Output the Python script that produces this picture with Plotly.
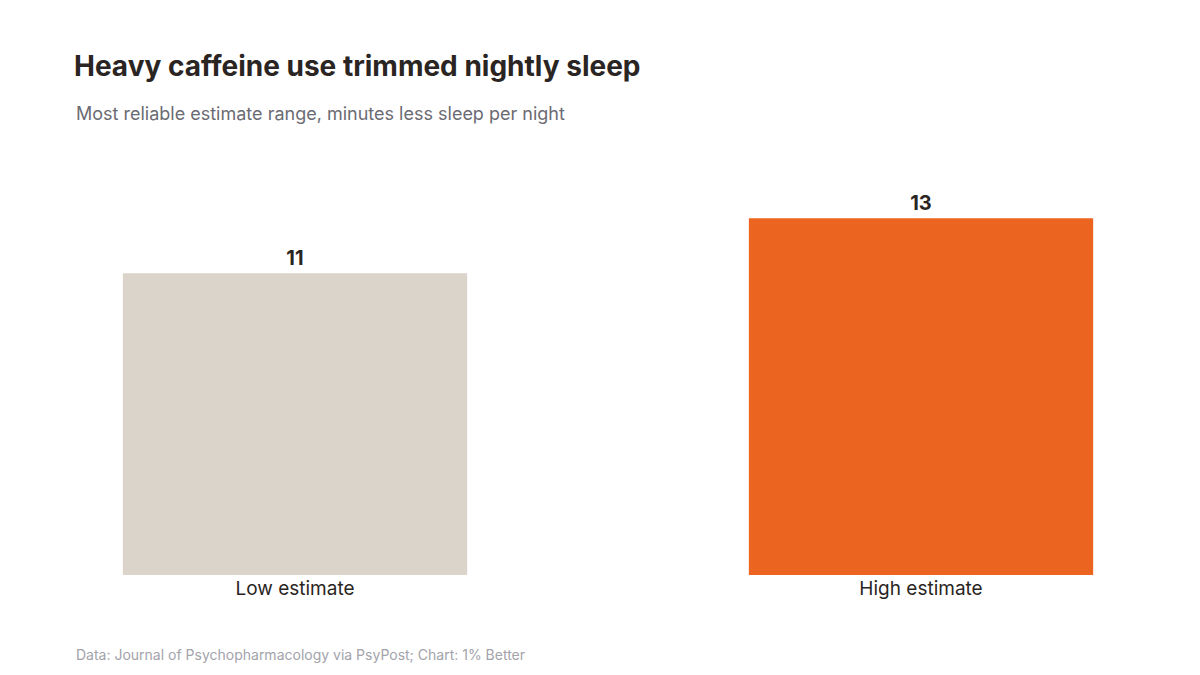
import plotly.graph_objects as go

categories = ["Low estimate", "High estimate"]
values = [11, 13]
colors = ["#DAD4CA", "#EC6520"]

fig = go.Figure(go.Bar(
    x=[0, 1], y=values, marker=dict(color=colors, line=dict(width=0)), width=0.55,
    text=[str(v) for v in values], textposition="outside", cliponaxis=False,
    textfont=dict(family="Inter", size=20, color="#2a2522", weight="bold"),
    hoverinfo="skip",
))
fig.update_layout(
    width=1200, height=675, plot_bgcolor="white", paper_bgcolor="white",
    margin=dict(l=66, r=66, t=150, b=108), showlegend=False,
    title=dict(text="<b>Heavy caffeine use trimmed nightly sleep</b>", x=66/1200, xanchor="left",
               y=1-58/675, yanchor="middle", font=dict(family="Inter", size=28, color="#2a2522")),
    xaxis=dict(range=[-0.353, 1.353], tickvals=[0, 1], ticktext=categories, showgrid=False,
               zeroline=False, showline=False, ticks="", tickfont=dict(family="Inter", size=19, color="#2a2522")),
    yaxis=dict(range=[0, 15.2], visible=False),
    annotations=[
        dict(text="Most reliable estimate range, minutes less sleep per night", xref="paper", yref="paper",
             x=0, y=1 + (150-105)/417, xanchor="left", yanchor="middle", showarrow=False,
             font=dict(family="Inter", size=18, color="#6b6b73")),
        dict(text="Data: Journal of Psychopharmacology via PsyPost; Chart: 1% Better", xref="paper", yref="paper",
             x=0, y=-(646-567)/417, xanchor="left", yanchor="middle", showarrow=False,
             font=dict(family="Inter", size=14, color="#a3a3ab")),
    ],
)
fig.write_html("out.html")
